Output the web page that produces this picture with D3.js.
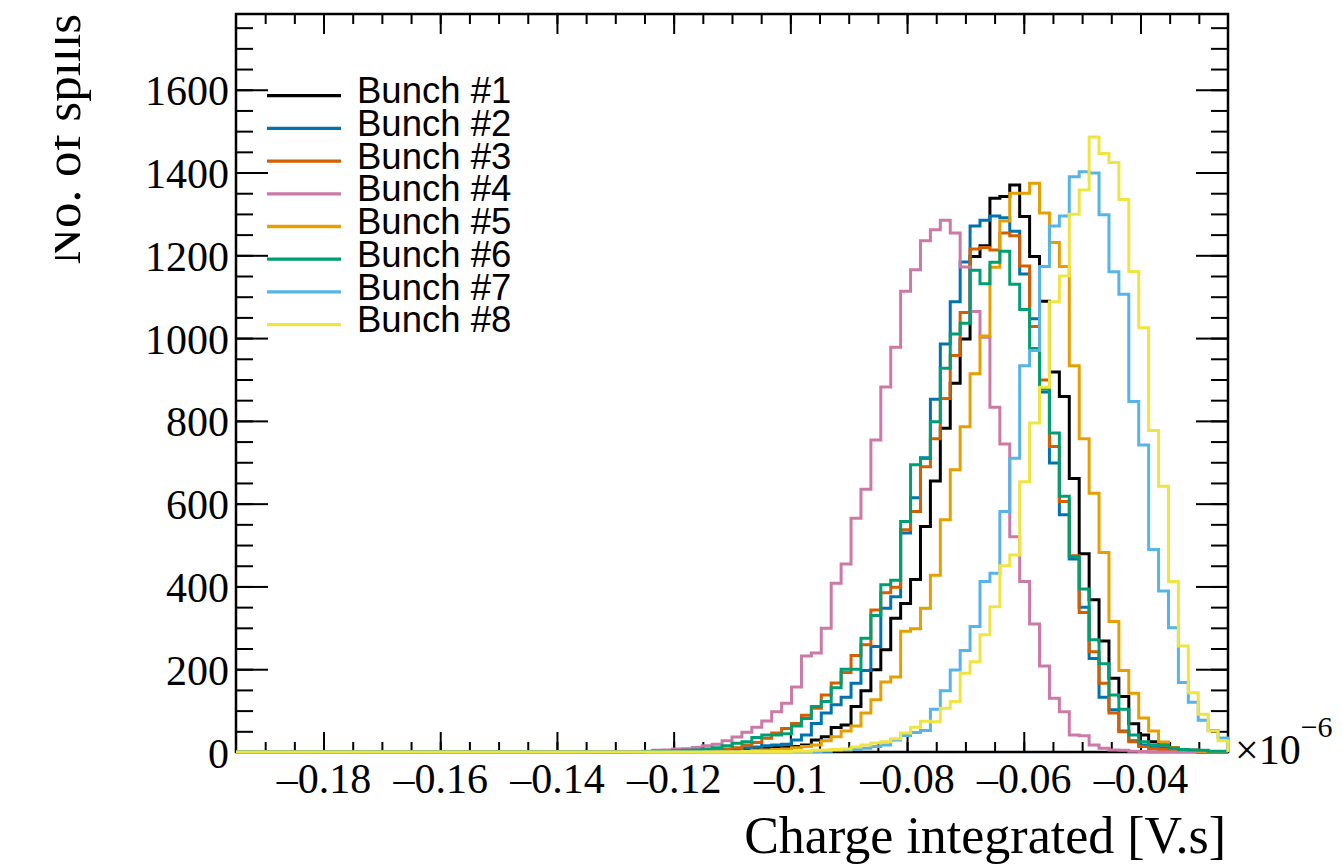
<!DOCTYPE html>
<html>
<head>
<meta charset="utf-8">
<script src="https://cdn.jsdelivr.net/npm/d3@7/dist/d3.min.js"></script>
<style>
body { margin: 0; background: #fff; }
</style>
</head>
<body>
<div id="chart"></div>
<script>
// histogram binning: 100 bins between xMin and xMax (units of 1e-6 V.s)
var xMin = -0.195;
var xMax = -0.025;
var nBins = 100;
var yMax = 1783;

var bunchNames = ["Bunch #1", "Bunch #2", "Bunch #3", "Bunch #4",
                  "Bunch #5", "Bunch #6", "Bunch #7", "Bunch #8"];
var bunchColors = ["#000000", "#0072B2", "#D55E00", "#CC79A7",
                   "#E69F00", "#009E73", "#56B4E9", "#F0E442"];

// counts per bin, bin 0 .. bin 99
var bunch1 = [0,0,0,0,0,0,0,0,0,0, 0,0,0,0,0,0,0,0,0,0,
              0,0,0,0,0,0,0,0,0,0, 0,0,0,0,0,0,0,0,0,0,
              1,1,1,2,2,2,2,4,5,5, 6,7,8,10,11,12,13,17,29,37,
              59,65,110,148,199,247,323,359,417,545,
              655,782,891,998,1197,1223,1338,1342,1370,1294,
              1197,1089,918,859,661,479,368,268,178,134,
              68,41,25,17,10,6,4,2,1,1];
var bunch2 = [0,0,0,0,0,0,0,0,0,0, 0,0,0,0,0,0,0,0,0,0,
              0,0,0,0,0,0,0,0,0,0, 0,0,0,0,0,0,0,0,0,0,
              0,1,1,1,1,1,2,4,5,6, 7,10,12,15,17,19,29,41,69,94,
              114,132,166,197,255,347,375,529,614,711,
              852,986,1088,1184,1271,1285,1295,1291,1258,1155,
              1047,870,698,573,466,350,226,132,102,51,
              27,17,12,9,6,4,2,1,1,0];
var bunch3 = [0,0,0,0,0,0,0,0,0,0, 0,0,0,0,0,0,0,0,0,0,
              0,0,0,0,0,0,0,0,0,0, 0,0,0,0,0,0,0,0,0,0,
              0,1,1,1,1,1,2,4,5,7, 10,17,23,33,46,57,69,89,106,138,
              167,192,233,259,343,385,398,537,581,689,
              757,854,958,1062,1215,1219,1213,1254,1247,1174,
              1028,899,738,605,474,337,242,166,94,49,
              25,13,8,6,4,2,1,1,0,0];
var bunch4 = [0,0,0,0,0,0,0,0,0,0, 0,0,0,0,0,0,0,0,0,0,
              0,0,0,0,0,0,0,0,0,0, 0,0,0,0,0,0,1,1,1,1,
              1,2,4,5,7,8,11,15,19,27, 36,48,60,75,97,118,157,232,239,299,
              408,454,565,635,754,882,978,1113,1165,1235,
              1262,1285,1254,1172,1064,1002,833,744,520,412,
              309,208,130,97,41,39,17,9,5,4,
              2,1,0,0,0,0,0,0,0,0];
var bunch5 = [0,0,0,0,0,0,0,0,0,0, 0,0,0,0,0,0,0,0,0,0,
              0,0,0,0,0,0,0,0,0,0, 0,0,0,0,0,0,0,0,0,0,
              0,0,0,0,0,0,1,1,1,1, 1,2,4,5,6,7,10,13,17,27,
              37,51,63,94,126,169,181,292,298,347,
              427,561,682,786,914,1005,1171,1283,1350,1350,
              1374,1302,1231,1173,933,757,625,482,315,197,
              142,82,51,24,10,6,4,2,1,1];
var bunch6 = [0,0,0,0,0,0,0,0,0,0, 0,0,0,0,0,0,0,0,0,0,
              0,0,0,0,0,0,0,0,0,0, 0,0,0,0,0,0,0,0,0,0,
              0,1,2,2,3,4,5,7,10,15, 21,25,35,41,41,44,63,81,110,122,
              155,200,200,275,330,404,415,557,694,709,
              798,927,1010,1036,1164,1131,1183,1210,1130,1069,
              975,877,771,618,472,394,271,213,138,103,
              41,25,17,17,9,6,5,4,2,2];
var bunch7 = [0,0,0,0,0,0,0,0,0,0, 0,0,0,0,0,0,0,0,0,0,
              0,0,0,0,0,0,0,0,0,0, 0,0,0,0,0,0,0,0,0,0,
              0,0,0,0,0,0,0,0,0,0, 0,1,1,1,1,1,1,1,1,2,
              4,5,6,9,13,17,29,40,47,52,
              103,148,198,245,303,412,432,581,710,933,
              970,1173,1271,1295,1390,1402,1399,1298,1160,1106,
              847,742,489,389,300,168,120,77,52,34];
var bunch8 = [0,0,0,0,0,0,0,0,0,0, 0,0,0,0,0,0,0,0,0,0,
              0,0,0,0,0,0,0,0,0,0, 0,0,0,0,0,0,0,0,0,0,
              0,0,0,0,0,0,0,0,0,0, 0,1,1,1,1,1,2,2,4,5,
              6,7,12,17,22,25,32,46,60,74,
              73,106,122,190,218,283,351,450,476,653,
              795,881,1088,1150,1299,1358,1486,1446,1424,1335,
              1161,1025,777,642,412,256,143,91,51,27];
var bunchCounts = [bunch1, bunch2, bunch3, bunch4, bunch5, bunch6, bunch7, bunch8];

var xMajorTicks = [-0.18, -0.16, -0.14, -0.12, -0.1, -0.08, -0.06, -0.04];
var xTickLabels = ["\u20130.18", "\u20130.16", "\u20130.14", "\u20130.12",
                   "\u20130.1", "\u20130.08", "\u20130.06", "\u20130.04"];
var yMajorTicks = [0, 200, 400, 600, 800, 1000, 1200, 1400, 1600];
var yTickLabels = ["0", "200", "400", "600", "800", "1000", "1200", "1400", "1600"];

const WIDTH = 1342;
const HEIGHT = 866;
var frame = {left: 236, right: 1228, top: 14, bottom: 752};
var serif = "'Liberation Serif', 'Times New Roman', serif";
var sans = "'Liberation Sans', Arial, sans-serif";

var x = d3.scaleLinear().domain([xMin, xMax]).range([frame.left, frame.right]);
var y = d3.scaleLinear().domain([0, yMax]).range([frame.bottom, frame.top]);

var binWidth = (xMax - xMin) / nBins;
var xMinorTicks = d3.range(1, 34).map(function(i) { return xMin + i * 0.005; });
var yMinorTicks = d3.range(1, 36).map(function(i) { return i * 50; });

var svg = d3.select("#chart").append("svg")
    .attr("width", WIDTH)
    .attr("height", HEIGHT)
    .style("background", "#fff");

function styleAxis(g) {
    g.select(".domain").remove();
    g.selectAll("line").attr("stroke", "#000").attr("stroke-width", 2);
    g.selectAll("text")
     .attr("font-family", serif)
     .attr("font-size", 42)
     .attr("fill", "#000");
}

// bottom axis: minor then major with labels
svg.append("g")
   .attr("transform", "translate(0," + frame.bottom + ")")
   .call(d3.axisBottom(x).tickValues(xMinorTicks).tickSize(-10).tickFormat(""))
   .call(styleAxis);
svg.append("g")
   .attr("transform", "translate(0," + frame.bottom + ")")
   .call(d3.axisBottom(x).tickValues(xMajorTicks).tickSize(-20).tickPadding(11)
         .tickFormat(function(d, i) { return xTickLabels[i]; }))
   .call(styleAxis);

// top axis ticks
svg.append("g")
   .attr("transform", "translate(0," + frame.top + ")")
   .call(d3.axisTop(x).tickValues(xMinorTicks).tickSize(-10).tickFormat(""))
   .call(styleAxis);
svg.append("g")
   .attr("transform", "translate(0," + frame.top + ")")
   .call(d3.axisTop(x).tickValues(xMajorTicks).tickSize(-20).tickFormat(""))
   .call(styleAxis);

// left axis
svg.append("g")
   .attr("transform", "translate(" + frame.left + ",0)")
   .call(d3.axisLeft(y).tickValues(yMinorTicks).tickSize(-17).tickFormat(""))
   .call(styleAxis);
svg.append("g")
   .attr("transform", "translate(" + frame.left + ",0)")
   .call(d3.axisLeft(y).tickValues(yMajorTicks).tickSize(-32).tickPadding(7)
         .tickFormat(function(d, i) { return yTickLabels[i]; }))
   .call(styleAxis)
   .selectAll("text").attr("dy", "0.36em");

// right axis ticks
svg.append("g")
   .attr("transform", "translate(" + frame.right + ",0)")
   .call(d3.axisRight(y).tickValues(yMinorTicks).tickSize(-17).tickFormat(""))
   .call(styleAxis);
svg.append("g")
   .attr("transform", "translate(" + frame.right + ",0)")
   .call(d3.axisRight(y).tickValues(yMajorTicks).tickSize(-32).tickFormat(""))
   .call(styleAxis);

svg.append("rect")
   .attr("x", frame.left)
   .attr("y", frame.top)
   .attr("width", frame.right - frame.left)
   .attr("height", frame.bottom - frame.top)
   .attr("fill", "none")
   .attr("stroke", "#000")
   .attr("stroke-width", 2.5);

// histogram outlines
function stepPoints(counts) {
    var pts = [[x(xMin), y(0)]];
    counts.forEach(function(c, i) {
        var lo = xMin + i * binWidth;
        var hi = xMin + (i + 1) * binWidth;
        pts.push([x(lo), y(c)]);
        pts.push([x(hi), y(c)]);
    });
    pts.push([x(xMax), y(0)]);
    return pts;
}

var line = d3.line();
svg.append("g").selectAll("path")
   .data(bunchCounts)
   .enter().append("path")
   .attr("d", function(d) { return line(stepPoints(d)); })
   .attr("fill", "none")
   .attr("stroke", function(d, i) { return bunchColors[i]; })
   .attr("stroke-width", 3)
   .attr("stroke-linejoin", "miter")
   .attr("stroke-linecap", "butt");

// legend
var legend = svg.append("g");
var legendTop = 95.7;
var legendStep = 32.7;
bunchNames.forEach(function(name, i) {
    var ly = legendTop + i * legendStep;
    legend.append("line")
          .attr("x1", 267).attr("x2", 341)
          .attr("y1", ly).attr("y2", ly)
          .attr("stroke", bunchColors[i])
          .attr("stroke-width", 3.3);
    legend.append("text")
          .attr("x", 357)
          .attr("y", ly + 7.6)
          .attr("font-family", sans)
          .attr("font-size", 36.5)
          .attr("fill", "#000")
          .text(name);
});

// exponent label
var expo = svg.append("text")
              .attr("x", 1235)
              .attr("y", 764)
              .attr("font-family", serif)
              .attr("font-size", 42)
              .attr("fill", "#000");
expo.append("tspan").text("\u00d710");
expo.append("tspan").attr("dy", -27).attr("font-size", 30).text("\u22126");

// axis titles
svg.append("text")
   .attr("x", 1226)
   .attr("y", 853)
   .attr("text-anchor", "end")
   .attr("font-family", serif)
   .attr("font-size", 52)
   .attr("fill", "#000")
   .text("Charge integrated [V.s]");

svg.append("clipPath").attr("id", "ytitle-clip")
   .append("rect")
   .attr("x", 55).attr("y", 0)
   .attr("width", WIDTH).attr("height", HEIGHT);

svg.append("g")
   .attr("clip-path", "url(#ytitle-clip)")
   .append("text")
   .attr("transform", "translate(80," + frame.top + ") rotate(-90)")
   .attr("text-anchor", "end")
   .attr("font-family", serif)
   .attr("font-size", 51)
   .attr("fill", "#000")
   .text("No. of spills");
</script>
</body>
</html>
